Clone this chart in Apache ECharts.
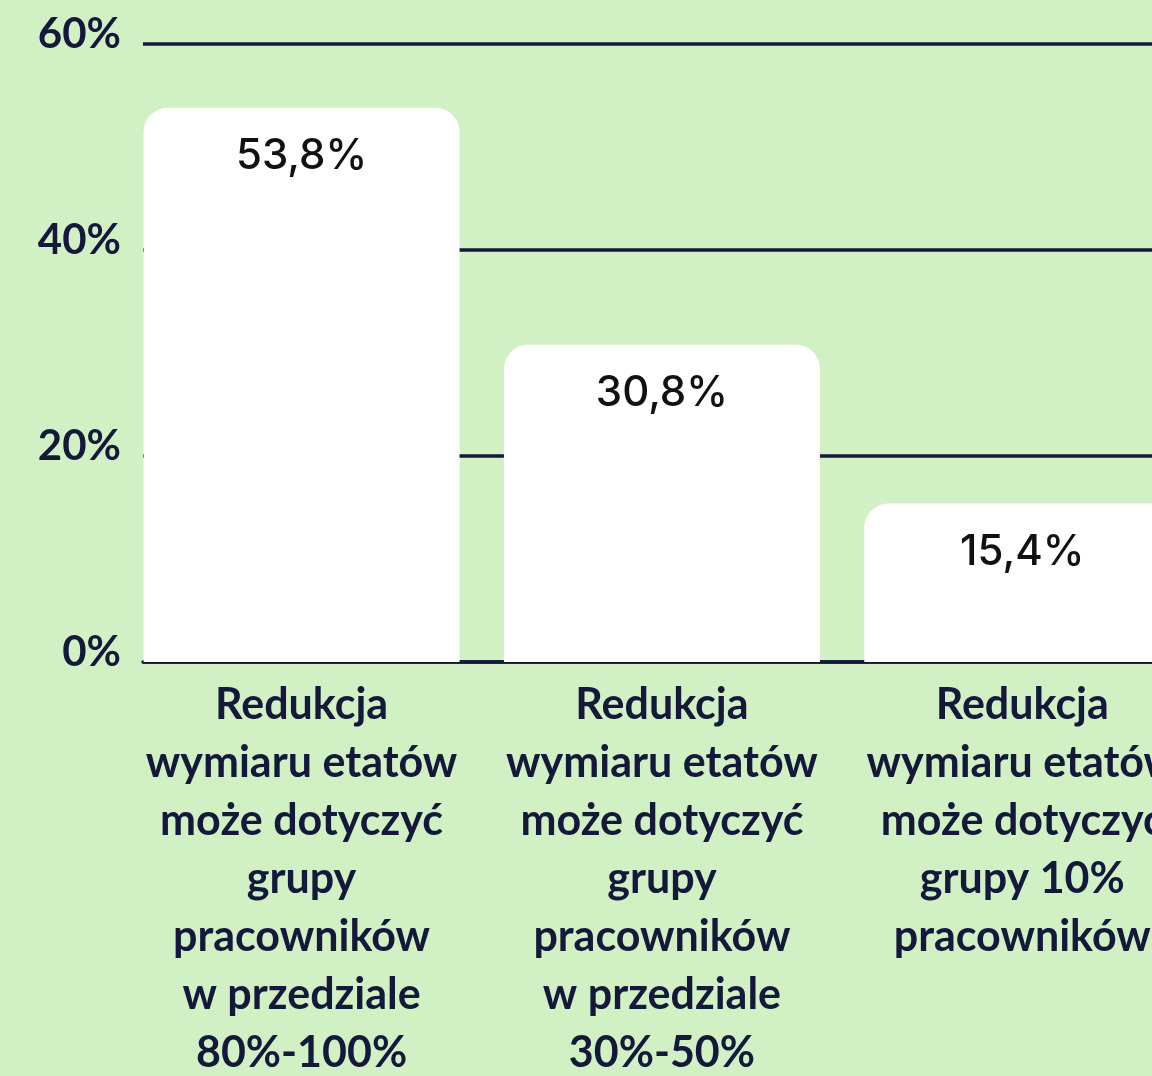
<!DOCTYPE html>
<html>
<head>
<meta charset="utf-8">
<script src="https://cdn.jsdelivr.net/npm/echarts@6/dist/echarts.min.js"></script>
<style>
  html, body { margin: 0; padding: 0; background: #d1f0c4; overflow: hidden; }
  #chart { width: 1152px; height: 1076px; }
</style>
</head>
<body>
<div id="chart"></div>
<script>
const categories = [
  'Redukcja\nwymiaru etatów\nmoże dotyczyć\ngrupy\npracowników\nw przedziale\n80%-100%',
  'Redukcja\nwymiaru etatów\nmoże dotyczyć\ngrupy\npracowników\nw przedziale\n30%-50%',
  'Redukcja\nwymiaru etatów\nmoże dotyczyć\ngrupy 10%\npracowników'
]
const values = [53.8, 30.8, 15.4]
const yTicks = [0, 20, 40, 60]

const navy = '#14183a'
const chart = echarts.init(document.getElementById('chart'))

// positions of categories along a value x axis, so the grid can start at the first bar's edge
const points = values.map((v, i) => [i, v])

chart.setOption({
  backgroundColor: '#d1f0c4',
  animation: false,
  grid: { left: 143, right: 0, top: 44, bottom: 414, outerBoundsMode: 'none', containLabel: false },
  xAxis: {
    type: 'value',
    min: -0.44,
    max: 2.36,
    axisLine: { show: true, onZero: false, lineStyle: { color: navy, width: 3.5 } },
    axisTick: { show: false },
    splitLine: { show: false },
    axisLabel: {
      customValues: categories.map((c, i) => i),
      formatter: (v) => categories[v] || '',
      color: navy,
      fontFamily: 'Lato',
      fontWeight: 'bold',
      fontSize: 43,
      lineHeight: 58,
      margin: 14,
      align: 'center'
    }
  },
  yAxis: {
    type: 'value',
    min: yTicks[0],
    max: yTicks[yTicks.length - 1],
    interval: 20,
    axisLine: { show: false },
    axisTick: { show: false },
    splitLine: { show: true, lineStyle: { color: navy, width: 3.5 } },
    axisLabel: {
      formatter: '{value}%',
      color: navy,
      fontFamily: 'Lato',
      fontWeight: 'bold',
      fontSize: 42,
      margin: 22,
      verticalAlign: 'bottom',
      lineHeight: 20
    }
  },
  series: [
    {
      type: 'bar',
      data: points,
      barWidth: 316,
      itemStyle: { color: '#ffffff', borderRadius: [24, 24, 0, 0] },
      label: {
        show: true,
        position: 'insideTop',
        distance: 28,
        color: '#111111',
        fontFamily: 'Inter',
        fontWeight: 500,
        fontSize: 42,
        formatter: (p) => p.value[1].toFixed(1).replace('.', ',') + '%'
      }
    }
  ]
})
</script>
</body>
</html>
